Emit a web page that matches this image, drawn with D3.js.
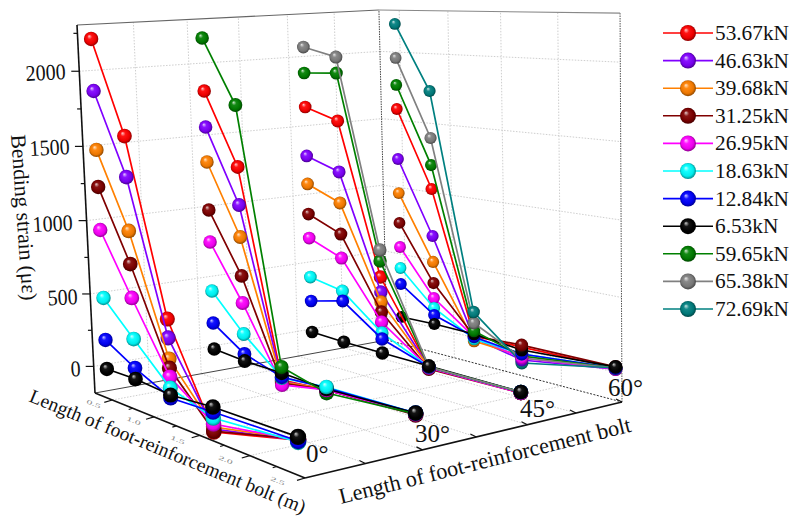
<!DOCTYPE html>
<html><head><meta charset="utf-8">
<script src="https://cdn.jsdelivr.net/npm/d3@7"></script>
<style>body{margin:0;background:#fff}text{font-family:"Liberation Serif",serif;fill:#111}</style>
</head><body><div id="chart-area"></div>
<script>
/*
*    strain by bolt length, load and angle, pseudo 3D box
*/
var lengths = [0.45, 0.8, 1.2, 1.65, 2.45];
var angleNames = ["0°", "30°", "45°", "60°"];
var anglePos = [0, 2, 4, 6];
var loads = ["53.67kN", "46.63kN", "39.68kN", "31.25kN", "26.95kN", "18.63kN", "12.84kN", "6.53kN", "59.65kN", "65.38kN", "72.69kN"];
var colors = ["#ff0000", "#8000ff", "#ff8000", "#800000", "#ff00ff", "#00ffff", "#0000ff", "#000000", "#008000", "#808080", "#008080"];
var zTicks = [0, 500, 1000, 1500, 2000];
var lengthTicks = [0.5, 1, 1.5, 2, 2.5];

// rows follow the order of loads, each row is strain at each length
var angle0 = [
	[2215, 1604, 487, -128, 19],
	[1876, 1341, 367, -109, 19],
	[1489, 993, 233, -97, 25],
	[1244, 778, 175, -122, 25],
	[957, 556, 118, -78, 19],
	[500, 286, 47, -41, 8],
	[215, 94, -17, -4, 14],
	[17, 21, 2, 27, 37]
];
var angle30 = [
	[1821, 1331, -39, -9, 19],
	[1575, 1075, -46, -9, 19],
	[1335, 859, -52, -3, 19],
	[1003, 594, -59, -9, 13],
	[780, 409, -72, -9, 19],
	[436, 196, -25, 10, 25],
	[210, 58, -19, 4, 25],
	[26, 9, 8, -3, 25],
	[2181, 1744, 48, -29, 19]
];
var angle45 = [
	[1654, 1577, 541, 7, 4],
	[1305, 1222, 438, 7, 4],
	[1104, 1005, 369, 7, 4],
	[887, 786, 299, -7, 4],
	[713, 616, 230, 0, 4],
	[429, 382, 154, 7, 10],
	[254, 311, 112, 7, 10],
	[26, 17, 14, 13, 10],
	[1895, 1908, 651, 7, 10],
	[2078, 2018, 727, 7, 10]
];
var angle60 = [
	[1582, 1024, 12, 16, 29],
	[1212, 680, -3, -75, 22],
	[958, 489, -25, -47, 29],
	[734, 333, 12, 30, 36],
	[553, 222, 5, -61, 22],
	[394, 148, -10, -33, 29],
	[273, 96, 5, -33, 29],
	[22, 29, 26, -5, 36],
	[1759, 1198, 48, -47, 29],
	[1957, 1394, 106, -61, 29],
	[2205, 1732, 185, -96, 29]
];
var strains = [angle0, angle30, angle45, angle60];
// which series sits on top at the fourth length, per angle
var fourthTop = [7, 5, 7, 3];

var floorQuad = [[95, 393], [387, 340], [622, 402], [305, 478]];
var vMin = 0.28, vMax = 2.5, zMin = -185, zMax = 2305;
var sx = d3.scaleLinear().domain([0, 6]).range([0, 1]);
var sy = d3.scaleLinear().domain([vMin, vMax]).range([0, 1]);
var sz = d3.scaleLinear().domain([zMin, zMax]).range([0, 1]);
var rLen = d3.scaleLinear().domain([0.45, 2.45]).range([7.2, 8.2]);
var rAng = d3.scaleLinear().domain([0, 6]).range([0, -1.3]);

// camera: floor homography plus a vanishing point for the vertical
var j = -0.02974, Vx = 682, Vy = 12400;
function quad(q) {
	var dx1 = q[1][0] - q[2][0], dx2 = q[3][0] - q[2][0], sumx = q[0][0] - q[1][0] + q[2][0] - q[3][0];
	var dy1 = q[1][1] - q[2][1], dy2 = q[3][1] - q[2][1], sumy = q[0][1] - q[1][1] + q[2][1] - q[3][1];
	var den = dx1 * dy2 - dx2 * dy1;
	var g = (sumx * dy2 - dx2 * sumy) / den, h = (dx1 * sumy - sumx * dy1) / den;
	return function(s, t) {
		return [(q[1][0] - q[0][0] + g * q[1][0]) * s + (q[3][0] - q[0][0] + h * q[3][0]) * t + q[0][0],
		        (q[1][1] - q[0][1] + g * q[1][1]) * s + (q[3][1] - q[0][1] + h * q[3][1]) * t + q[0][1],
		        g * s + h * t + 1];
	};
}
var floorMap = quad(floorQuad);
function stretch(s, t) { return 1 + 0.0243 * s * (1 - t) + 0.0115 * s * t; }
function project(u, v, z) {
	var s = sx(u), t = sy(v), f = floorMap(s, t), k = sz(z) * stretch(s, t) * j;
	var w = f[2] + k;
	return [(f[0] + k * Vx) / w, (f[1] + k * Vy) / w];
}

var svg = d3.select("#chart-area").append("svg").attr("width", 792).attr("height", 517);
var defs = svg.append("defs");
colors.forEach(function(c, i) {
	var g = defs.append("radialGradient").attr("id", "ball" + i).attr("cx", "50%").attr("cy", "50%").attr("r", "55%").attr("fx", "36%").attr("fy", "30%");
	g.append("stop").attr("offset", "0%").attr("stop-color", d3.interpolateRgb(c, "#fff")(0.8));
	g.append("stop").attr("offset", "30%").attr("stop-color", d3.interpolateRgb(c, "#fff")(0.08));
	g.append("stop").attr("offset", "70%").attr("stop-color", d3.interpolateRgb(c, "#000")(0.08));
	g.append("stop").attr("offset", "100%").attr("stop-color", d3.interpolateRgb(c, "#000")(0.55));
});

function seg(p, q, col, w, dash) {
	svg.append("line").attr("x1", p[0]).attr("y1", p[1]).attr("x2", q[0]).attr("y2", q[1])
		.attr("stroke", col).attr("stroke-width", w).attr("stroke-dasharray", dash || null);
}

// grid
var gridCol = "#c8c8c8", gridDash = "1.5 1.5";
zTicks.forEach(function(z) {
	seg(project(0, vMin, z), project(6, vMin, z), gridCol, 0.9, gridDash);
	seg(project(6, vMin, z), project(6, vMax, z), gridCol, 0.9, gridDash);
});
d3.range(1, 6).forEach(function(u) {
	seg(project(u, vMin, zMin), project(u, vMin, zMax), gridCol, 0.9, gridDash);
	seg(project(u, vMin, zMin), project(u, vMax, zMin), gridCol, 0.9, gridDash);
});
lengthTicks.slice(0, 4).forEach(function(v) {
	seg(project(6, v, zMin), project(6, v, zMax), gridCol, 0.9, gridDash);
	seg(project(0, v, zMin), project(6, v, zMin), gridCol, 0.9, gridDash);
});

// box frame
seg(project(0, vMin, zMin), project(6, vMin, zMin), "#444", 1);
seg(project(6, vMin, zMin), project(6, vMax, zMin), "#333", 1, "2 1.5");
seg(project(6, vMin, zMin), project(6, vMin, zMax), "#444", 1, "1.5 1");
seg(project(6, vMax, zMin), project(6, vMax, zMax), "#555", 1, "1.5 1");
seg(project(0, vMin, zMax), project(6, vMin, zMax), "#666", 1.1);
seg(project(6, vMin, zMax), project(6, vMax, zMax), "#888", 1.1);

// axes
seg(project(0, vMin, zMin), project(0, vMin, zMax), "#111", 1.6);
seg(project(0, vMin, zMin), project(0, vMax, zMin), "#111", 1.6);
seg(project(0, vMax, zMin), project(6, vMax, zMin), "#111", 1.6);

d3.range(0, 2251, 250).forEach(function(z) {
	var p = project(0, vMin, z), major = z % 500 === 0 ? 8 : 4;
	seg(p, [p[0] - major, p[1]], "#111", 1.2);
});
d3.range(0.5, 2.51, 0.25).forEach(function(v) {
	var p = project(0, v, zMin), major = v % 0.5 === 0 ? 8 : 4;
	seg(p, [p[0] - major, p[1] + major * 0.3], "#111", 1.2);
});
d3.range(1, 7).forEach(function(u) {
	var p = project(u, vMax, zMin);
	seg(p, [p[0] - 6, p[1] - 3], "#111", 1.2);
});

// marks, back angle first
var line = d3.line();
function ball(g, ai, si, li) {
	var p = project(anglePos[ai], lengths[li], strains[ai][si][li]);
	g.append("circle").attr("cx", p[0]).attr("cy", p[1])
		.attr("r", rLen(lengths[li]) + rAng(anglePos[ai]))
		.attr("fill", "url(#ball" + si + ")");
}
d3.range(3, -1, -1).forEach(function(ai) {
	var g = svg.append("g");
	var rows = strains[ai];
	rows.forEach(function(vals, si) {
		var pts = vals.map(function(z, li) { return project(anglePos[ai], lengths[li], z); });
		g.append("path").attr("d", line(pts)).attr("fill", "none").attr("stroke", colors[si]).attr("stroke-width", 1.7);
		[0, 1, 2].forEach(function(li) { ball(g, ai, si, li); });
	});
	// the two front clusters stack differently, extra loads at the bottom
	var order = d3.range(rows.length).sort(function(a, b) { return (a > 7 ? -1 : 0) - (b > 7 ? -1 : 0) || a - b; });
	[[3, fourthTop[ai]], [4, 7]].forEach(function(c) {
		var stack = order.filter(function(si) { return si !== 7 && si !== c[1]; }).concat(c[1] === 7 ? [7] : [7, c[1]]);
		stack.forEach(function(si) { ball(g, ai, si, c[0]); });
	});
});

// z labels
var zLabelPos = [[81, 369], [78, 297], [73, 223], [70, 147], [66, 72]];
zTicks.forEach(function(z, i) {
	var p = zLabelPos[i];
	svg.append("text").attr("transform", "translate(" + p[0] + "," + (p[1] + 7) + ") rotate(-3) scale(1,1.12)")
		.attr("text-anchor", "end").style("font-size", "20px").text(z);
});
svg.append("text").attr("transform", "translate(11,135) rotate(86)").style("font-size", "21.5px").text("Bending strain (με)");
svg.append("text").attr("transform", "translate(28,401) rotate(22.3)").style("font-size", "19.5px").text("Length of foot-reinforcement bolt (m)");
svg.append("text").attr("transform", "translate(341,504) rotate(-14)").style("font-size", "22.2px").text("Length of foot-reinforcement bolt");

// flattened length ticks
var lengthLabelPos = [[86, 403], [126, 420], [170, 439], [218, 459], [270, 480]];
lengthTicks.forEach(function(v, i) {
	svg.append("text").attr("transform", "translate(" + lengthLabelPos[i][0] + "," + lengthLabelPos[i][1] + ") rotate(22) scale(1,0.5)")
		.style("font-size", "12px").style("fill", "#888").text(v.toFixed(1));
});

// angle labels
var angleLabelPos = [[306, 462], [415, 442], [520, 417], [608, 396]];
angleNames.forEach(function(a, i) {
	svg.append("text").attr("x", angleLabelPos[i][0]).attr("y", angleLabelPos[i][1]).style("font-size", "25px").text(a);
});

// legend
var legendY = d3.scaleLinear().domain([0, 10]).range([33, 309]);
loads.forEach(function(name, i) {
	var y = legendY(i);
	seg([663, y], [713, y], colors[i], 1.6);
	svg.append("circle").attr("cx", 688).attr("cy", y).attr("r", 8).attr("fill", "url(#ball" + i + ")");
	svg.append("text").attr("x", 715).attr("y", y + 7).style("font-size", "21.3px").text(name);
});
</script></body></html>
